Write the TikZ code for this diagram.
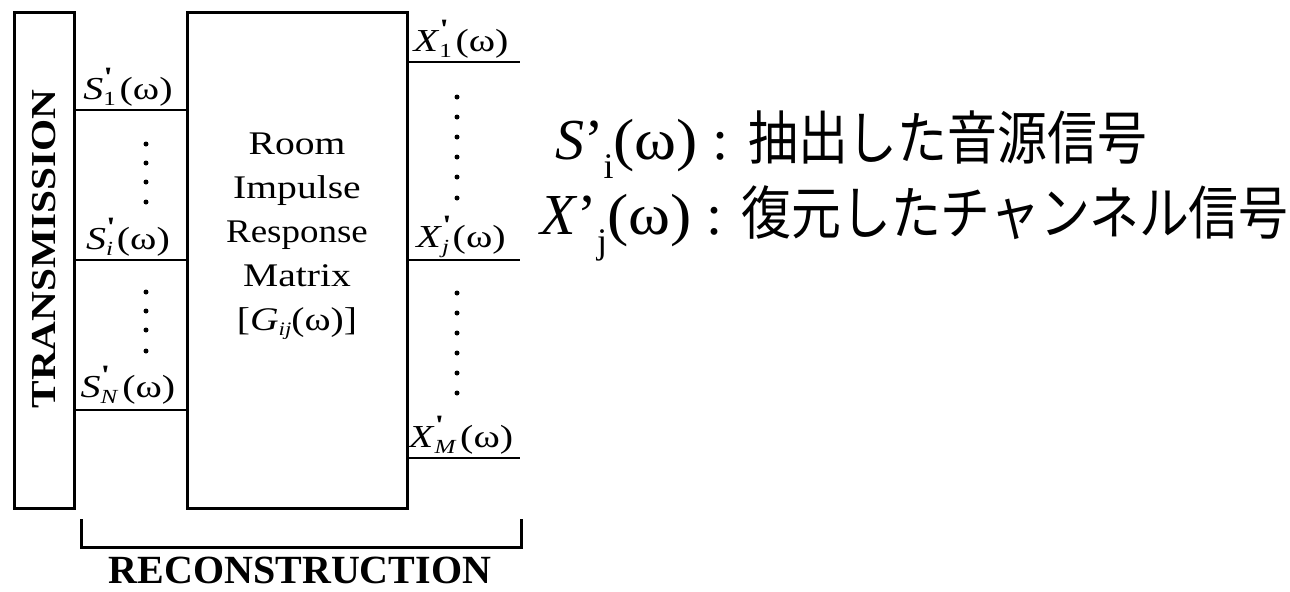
\documentclass[tikz,border=0pt]{standalone}
\usepackage{fontspec}
\setmainfont{Liberation Serif}
\newfontfamily\jpfont{Noto Sans CJK JP}
\usepackage{graphicx}
\newcommand\sublab[2]{\scalebox{1.25}[1]{\textit{#1}\rlap{\raisebox{0.42em}{\fontsize{14}{14}\selectfont\bfseries\textquotesingle}}\raisebox{-0.2em}{\fontsize{10}{10}\selectfont #2}\kern1.5pt(ω)}}
\begin{document}
\begin{tikzpicture}[x=0.5pt,y=-0.5pt,
  frame/.style={draw,line width=1.5pt,inner sep=0pt},
  sigline/.style={line width=1pt},
  lbl/.style={inner sep=0pt,font=\fontsize{16}{18}\selectfont},
  dotmark/.style={fill=black}]
\useasboundingbox (0,0) rectangle (1290,591);
% boxes
\node[frame,minimum width=30pt,minimum height=248pt] (tx) at (44,260) {};
\node[inner sep=0pt] (txt) at (44,249)
  {\rotatebox{90}{\scalebox{1.18}[1]{\fontsize{17.5}{17.5}\selectfont\bfseries TRANSMISSION}}};
\node[frame,minimum width=110pt,minimum height=248pt] (rm) at (297,260) {};
\node[inner sep=0pt,align=center,font=\fontsize{16.5}{22}\selectfont] (rmtext) at (297,236)
  {\scalebox{1.2}[1]{Room}\\\scalebox{1.2}[1]{Impulse}\\\scalebox{1.12}[1]{Response}\\\scalebox{1.2}[1]{Matrix}\\\scalebox{1.2}[1]{[\textit{G}\raisebox{-0.15em}{\fontsize{9.5}{10}\selectfont\textit{ij}}(ω)]}};
% left signal lines
\coordinate (s1) at (0,110);
\coordinate (si) at (0,260);
\coordinate (sn) at (0,410);
\draw[sigline] (tx.east |- s1) -- (rm.west |- s1);
\draw[sigline] (tx.east |- si) -- (rm.west |- si);
\draw[sigline] (tx.east |- sn) -- (rm.west |- sn);
\node[lbl] (ls1) at (128,87) {\sublab{S}{1}};
\node[lbl] (lsi) at (128,237) {\sublab{S}{\textit{i}}};
\node[lbl] (lsn) at (128,385) {\sublab{S}{\textit{N}}};
\foreach \y in {144,163,182,202,292,311,330,351} \fill[dotmark] (146,\y) circle (1.25pt);
% right signal lines
\coordinate (x1) at (520,62);
\coordinate (xj) at (520,260);
\coordinate (xm) at (520,458);
\draw[sigline] (rm.east |- x1) -- (x1);
\draw[sigline] (rm.east |- xj) -- (xj);
\draw[sigline] (rm.east |- xm) -- (xm);
\node[lbl] (lx1) at (461,39) {\sublab{X}{1}};
\node[lbl] (lxj) at (461,237) {\sublab{X}{\textit{j}}};
\node[lbl] (lxm) at (461,435) {\sublab{X}{\textit{M}}};
\foreach \y in {97,117,137,157,177,198,293,313,333,353,373,393} \fill[dotmark] (457,\y) circle (1.25pt);
% bracket
\coordinate (bl) at (81,519);
\coordinate (br) at (521,519);
\draw[line width=1.5pt] (bl) -- ++(0,28) -| (br);
\node[inner sep=0pt,font=\fontsize{20}{20}\selectfont\bfseries] (rec) at (300,570) {RECONSTRUCTION};
% legend
\node[anchor=base west,inner sep=0pt,font=\fontsize{29}{30}\selectfont] (lg1) at (555,159)
  {\textit{S}’\raisebox{-0.33em}{\fontsize{18}{18}\selectfont i}\scalebox{1.1}[1]{(ω)} : {\jpfont\fontsize{29}{30}\selectfont\scalebox{0.86}[1]{抽出した音源信号}}};
\node[anchor=base west,inner sep=0pt,font=\fontsize{29}{30}\selectfont] (lg2) at (540,234)
  {\textit{X}’\raisebox{-0.33em}{\fontsize{18}{18}\selectfont j}\scalebox{1.1}[1]{(ω)} : {\jpfont\fontsize{29}{30}\selectfont\scalebox{0.86}[1]{復元したチャンネル信号}}};
\end{tikzpicture}
\end{document}
